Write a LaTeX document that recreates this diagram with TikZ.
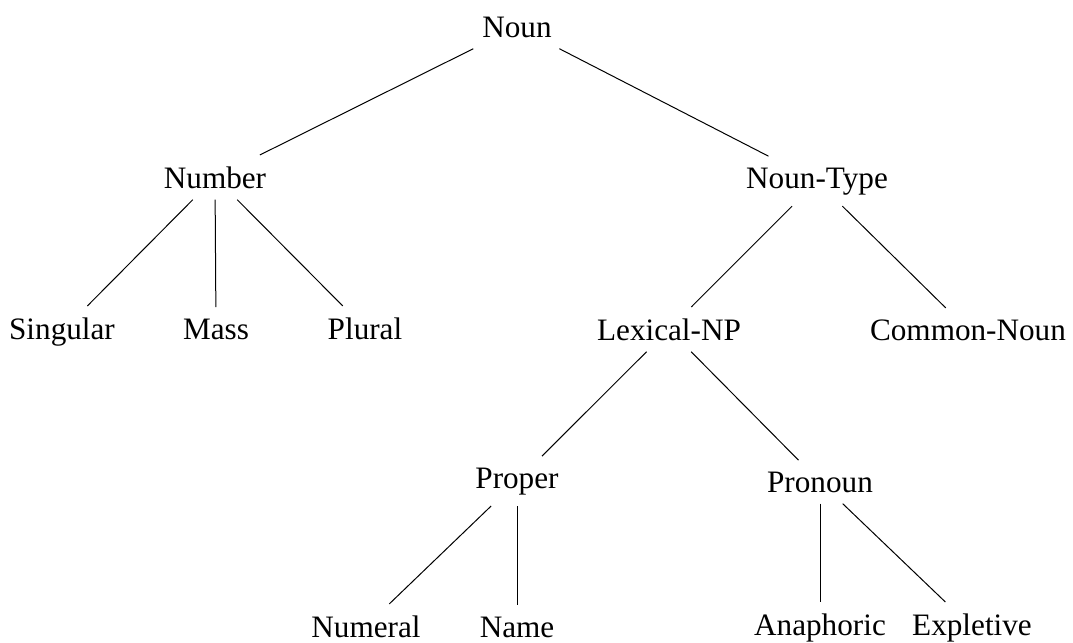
\documentclass[tikz,border=0pt]{standalone}
\usepackage{fontspec}
\setmainfont{Liberation Serif}
\begin{document}
\begin{tikzpicture}[
            x=0.5pt, y=-0.5pt,
            cat node/.style={anchor=base,inner sep=5.5pt,font=\fontsize{15.6}{18}\selectfont},
            every edge/.style={draw,line width=0.5pt},
        ]
            \useasboundingbox (0,0) rectangle (1073,643);
            \node[cat node] (noun) at (517, 37) {Noun};
            \node[cat node] (number) at (215, 188) {Number};
            \node[cat node] (nountype) at (817, 188) {Noun-Type};
            \node[cat node] (singular) at (62, 339) {Singular};
            \node[cat node] (mass) at (216, 339) {Mass};
            \node[cat node] (plural) at (365, 339) {Plural};
            \node[cat node] (lexnp) at (669, 340) {Lexical-NP};
            \node[cat node] (common) at (968, 340) {Common-Noun};
            \node[cat node] (proper) at (517, 488) {Proper};
            \node[cat node] (pronoun) at (820, 492) {Pronoun};
            \node[cat node] (numeral) at (366, 637) {Numeral};
            \node[cat node] (name) at (517, 637) {Name};
            \node[cat node] (anaphoric) at (820, 635) {Anaphoric};
            \node[cat node] (expletive) at (972, 635) {Expletive};

            \path (noun) edge (number);
            \path (noun) edge (nountype);
            \path (number) edge (singular);
            \path (number) edge (mass);
            \path (number) edge (plural);
            \path (nountype) edge (lexnp);
            \path (nountype) edge (common);
            \path (lexnp) edge (proper);
            \path (lexnp) edge (pronoun);
            \path (proper) edge (numeral);
            \path (proper) edge (name);
            \path (pronoun) edge (anaphoric);
            \path (pronoun) edge (expletive);
        \end{tikzpicture}
\end{document}
